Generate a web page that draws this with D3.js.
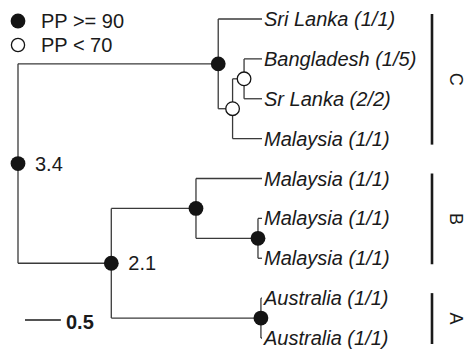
<!DOCTYPE html>
<html>
<head>
<meta charset="utf-8">
<script src="https://cdn.jsdelivr.net/npm/d3@7"></script>
<style>
  body { margin: 0; background: #fff; }
  svg { display: block; font-family: "Liberation Sans", Arial, sans-serif; }
  .branch { stroke: #3a3a3a; stroke-width: 1.3; fill: none; }
</style>
</head>
<body>
<svg id="chart"></svg>
<script>
// tree, listed so that children come in drawing order
const nodeIds     = ['root', 'C', 't1', 'C2', 'C3', 't2', 't3', 't4', 'n21', 'B', 't5', 'B2', 't6', 't7', 'A', 't8', 't9'];
const nodeParents = ['',     'root', 'C', 'C', 'C2', 'C3', 'C3', 'C2', 'root', 'n21', 'B', 'B', 'B2', 'B2', 'n21', 'A', 'A'];
const nodeAges    = [3.4, 0.61, 0, 0.41, 0.25, 0, 0, 0, 2.1, 0.92, 0, 0.056, 0, 0, 0.015, 0, 0];
// 'hi' = PP >= 90, 'lo' = PP < 70
const nodeSupport = ['hi', 'hi', '', 'lo', 'lo', '', '', '', 'hi', 'hi', '', 'hi', '', '', 'hi', '', ''];
const nodeAgeLabels = { root: '3.4', n21: '2.1' };
const tipLabels = {
  t1: 'Sri Lanka (1/1)', t2: 'Bangladesh (1/5)', t3: 'Sr Lanka (2/2)', t4: 'Malaysia (1/1)',
  t5: 'Malaysia (1/1)', t6: 'Malaysia (1/1)', t7: 'Malaysia (1/1)',
  t8: 'Australia (1/1)', t9: 'Australia (1/1)'
};
const cladeNames = ['C', 'B', 'A'];
const cladeFirstTip = [0, 4, 7];
const cladeLastTip = [3, 6, 8];
const legendLabels = ['PP >= 90', 'PP < 70'];
const scaleBarLength = 0.5;

const width = 466, height = 349;
const svg = d3.select('#chart').attr('width', width).attr('height', height);

const rows = nodeIds.map((id, i) => ({ id, parent: nodeParents[i], age: nodeAges[i], pp: nodeSupport[i] }));
const root = d3.stratify().id(d => d.id).parentId(d => d.parent || null)(rows);

const x = d3.scaleLinear().domain([3.4, 0]).range([18, 262]);
const leaves = root.leaves();
const y = d3.scaleLinear().domain([0, leaves.length - 1]).range([19, 338]);

leaves.forEach((l, i) => { l.py = y(i); });
root.eachAfter(n => {
  if (n.children) n.py = (n.children[0].py + n.children[n.children.length - 1].py) / 2;
  n.px = x(n.data.age);
});

const gLines = svg.append('g');
// horizontal branches
root.descendants().filter(n => n.parent).forEach(n => {
  gLines.append('line').attr('class', 'branch')
    .attr('x1', n.parent.px).attr('x2', n.px)
    .attr('y1', n.py).attr('y2', n.py);
});
// vertical connectors
root.descendants().filter(n => n.children).forEach(n => {
  gLines.append('line').attr('class', 'branch')
    .attr('x1', n.px).attr('x2', n.px)
    .attr('y1', n.children[0].py).attr('y2', n.children[n.children.length - 1].py);
});

// tip labels
svg.append('g').selectAll('text').data(leaves).join('text')
  .attr('x', d => d.px + 2)
  .attr('y', d => d.py + 7)
  .attr('font-size', 20)
  .attr('font-style', 'italic')
  .attr('fill', '#1a1a1a')
  .text(d => tipLabels[d.id]);

// support markers
const internal = root.descendants().filter(n => n.children);
svg.append('g').selectAll('circle').data(internal).join('circle')
  .attr('cx', d => d.px).attr('cy', d => d.py)
  .attr('r', d => d.data.pp === 'hi' ? 7.4 : 6.8)
  .attr('fill', d => d.data.pp === 'hi' ? '#141414' : '#fff')
  .attr('stroke', '#141414')
  .attr('stroke-width', d => d.data.pp === 'hi' ? 0 : 1.3);

// node ages
svg.append('g').selectAll('text').data(internal.filter(n => nodeAgeLabels[n.id])).join('text')
  .attr('x', d => d.px + 17).attr('y', d => d.py + 7)
  .attr('font-size', 20).attr('fill', '#1a1a1a')
  .text(d => nodeAgeLabels[d.id]);

// clade bars
const gClade = svg.append('g');
cladeNames.forEach((name, i) => {
  const y1 = y(cladeFirstTip[i]) - 5, y2 = y(cladeLastTip[i]) + 6;
  gClade.append('line')
    .attr('x1', 432).attr('x2', 432).attr('y1', y1).attr('y2', y2)
    .attr('stroke', '#1a1a1a').attr('stroke-width', 2.6);
  gClade.append('text')
    .attr('transform', `translate(450,${(y1 + y2) / 2}) rotate(90)`)
    .attr('text-anchor', 'middle')
    .attr('font-size', 18).attr('fill', '#1a1a1a')
    .text(name);
});

// scale bar
const sbY = 320;
svg.append('line')
  .attr('x1', 25).attr('x2', 25 + (x(0) - x(scaleBarLength))).attr('y1', sbY).attr('y2', sbY)
  .attr('stroke', '#1a1a1a').attr('stroke-width', 1.3);
svg.append('text')
  .attr('x', 66).attr('y', sbY + 9)
  .attr('font-size', 20).attr('font-weight', 'bold').attr('fill', '#1a1a1a')
  .text(scaleBarLength);

// legend
const legend = svg.append('g');
legendLabels.forEach((lab, i) => {
  const ly = 21 + i * 24;
  legend.append('circle')
    .attr('cx', 18).attr('cy', ly).attr('r', i === 0 ? 7.4 : 6.6)
    .attr('fill', i === 0 ? '#141414' : '#fff')
    .attr('stroke', '#141414').attr('stroke-width', i === 0 ? 0 : 1.3);
  legend.append('text')
    .attr('x', 41).attr('y', ly + 7)
    .attr('font-size', 20).attr('fill', '#1a1a1a')
    .text(lab);
});
</script>
</body>
</html>
